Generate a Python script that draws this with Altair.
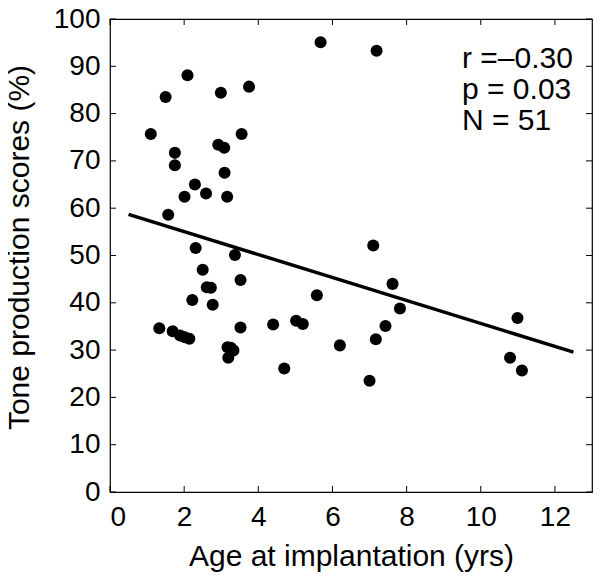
import altair as alt
import pandas as pd

age = [5.68, 2.09, 1.50, 2.99, 3.75, 1.10, 3.55, 2.92, 3.08, 1.75, 1.75, 3.09, 2.29, 2.59,
       2.01, 3.16, 1.57, 2.31, 3.37, 7.19, 7.10, 2.50, 3.52, 2.61, 2.72, 2.22, 2.77, 5.58,
       1.33, 1.69, 1.89, 2.02, 2.14, 3.52, 4.40, 5.02, 5.20, 3.17, 3.33, 3.19, 4.70, 6.20,
       7.62, 7.82, 7.43, 7.17, 7.00, 10.99, 10.79, 11.11, 3.26]
score = [95.1, 88.1, 83.5, 84.4, 85.7, 75.7, 75.7, 73.4, 72.8, 71.7, 69.1, 67.5, 65.0, 63.1,
         62.4, 62.4, 58.6, 51.6, 50.1, 93.3, 52.1, 47.0, 44.8, 43.3, 43.2, 40.6, 39.6, 41.6,
         34.6, 34.0, 33.1, 32.7, 32.4, 34.8, 35.4, 36.2, 35.5, 30.6, 29.9, 28.4, 26.1, 31.0,
         44.0, 38.8, 35.1, 32.3, 23.5, 36.8, 28.4, 25.7, 30.5]
x_ticks = [0, 2, 4, 6, 8, 10, 12]
y_ticks = [0, 10, 20, 30, 40, 50, 60, 70, 80, 90, 100]
stats = ["r =\u20130.30", "p = 0.03", "N = 51"]

FONT = "Liberation Sans"
W, H = 482, 473
TICK = 6
df = pd.DataFrame({"age": age, "score": score})
xs = alt.Scale(domain=[0, 13], nice=False, zero=False)
ys = alt.Scale(domain=[0, 100], nice=False)

base = alt.Chart(df)

points = base.mark_circle(size=145, color="black", opacity=1).encode(
    x=alt.X("age:Q", scale=xs,
            axis=alt.Axis(title="Age at implantation (yrs)", values=x_ticks, tickSize=0,
                          labelPadding=11, titlePadding=10, grid=False, domain=False)),
    y=alt.Y("score:Q", scale=ys,
            axis=alt.Axis(title="Tone production scores (%)", values=y_ticks, tickSize=0,
                          labelPadding=10, titleX=-76, titleY=228, grid=False, domain=False)),
)

fit = base.transform_regression("age", "score", extent=[0.5, 12.5]).mark_line(
    color="black", strokeWidth=3.5).encode(x=alt.X("age:Q", scale=xs), y=alt.Y("score:Q", scale=ys))

xt = pd.DataFrame({"v": x_ticks})
yt = pd.DataFrame({"v": y_ticks})
rule_kw = dict(color="black", strokeWidth=1)
tick_bottom = alt.Chart(xt).mark_rule(**rule_kw).encode(
    x=alt.X("v:Q", scale=xs), y=alt.value(H), y2=alt.value(H - TICK))
tick_top = alt.Chart(xt).mark_rule(**rule_kw).encode(
    x=alt.X("v:Q", scale=xs), y=alt.value(0), y2=alt.value(TICK))
tick_left = alt.Chart(yt).mark_rule(**rule_kw).encode(
    y=alt.Y("v:Q", scale=ys), x=alt.value(0), x2=alt.value(TICK))
tick_right = alt.Chart(yt).mark_rule(**rule_kw).encode(
    y=alt.Y("v:Q", scale=ys), x=alt.value(W), x2=alt.value(W - TICK))

sdf = pd.DataFrame({"t": ["\n".join(stats)]})
text = alt.Chart(sdf).mark_text(align="left", baseline="middle", font=FONT, fontSize=30,
                                color="black", lineBreak="\n", lineHeight=31).encode(
    x=alt.value(352), y=alt.value(40), text="t:N")

chart = alt.layer(points, fit, tick_bottom, tick_top, tick_left, tick_right, text).properties(
    width=W, height=H,
    autosize=alt.AutoSizeParams(type="none"),
    padding={"left": 102, "top": 11, "right": 2, "bottom": 80},
).configure_view(stroke="black", strokeWidth=1.2).configure_axis(
    labelFont=FONT, titleFont=FONT, labelFontSize=28, titleFontSize=30,
    labelColor="black", titleColor="black", titleFontWeight="normal",
)

chart.save("out.html", embed_options={"renderer": "svg", "actions": False})
